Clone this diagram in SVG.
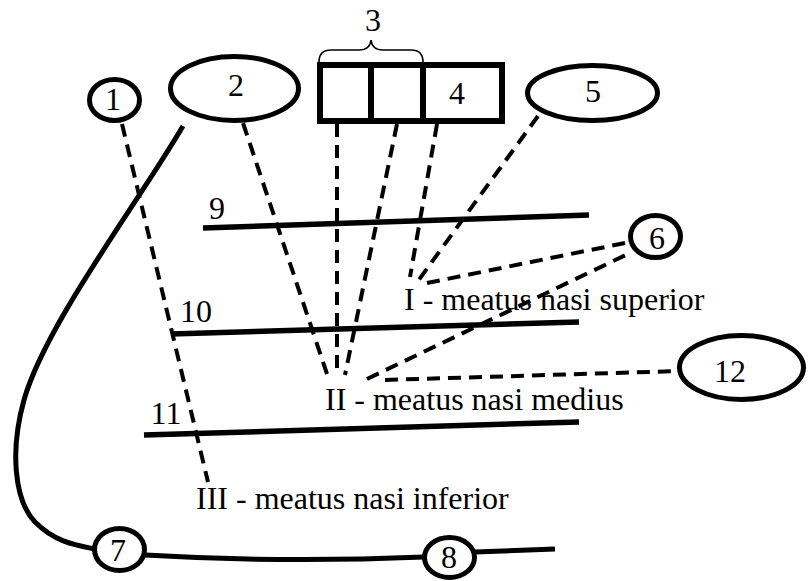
<svg xmlns="http://www.w3.org/2000/svg" width="808" height="581" viewBox="0 0 808 581">
  <style>
    text { font-family: "Liberation Serif", "Times New Roman", serif; font-size: 32px; fill: #000; }
    .num { text-anchor: middle; }
    .node { fill: #fff; stroke: #000; stroke-width: 5; }
    .bar { fill: none; stroke: #000; stroke-width: 5.5; stroke-linecap: butt; }
    .dash { fill: none; stroke: #000; stroke-width: 4; stroke-dasharray: 13 8; }
    .solid { fill: none; stroke: #000; stroke-width: 5; }
  </style>
  <rect width="808" height="581" fill="#fff"/>

  <!-- meatus labels -->
  <g id="labels">
    <text x="404" y="310">I - meatus nasi superior</text>
    <text x="325" y="410">II - meatus nasi medius</text>
    <text x="196" y="509">III - meatus nasi inferior</text>
  </g>

  <!-- conchae (lines 9, 10, 11) -->
  <g id="line9">
    <line class="bar" x1="203" y1="228" x2="589" y2="215"/>
    <text class="num" x="217" y="219">9</text>
  </g>
  <g id="line10">
    <line class="bar" x1="171" y1="334" x2="579" y2="322"/>
    <text class="num" x="196" y="322">10</text>
  </g>
  <g id="line11">
    <line class="bar" x1="144" y1="435" x2="579" y2="422"/>
    <text class="num" x="166" y="424">11</text>
  </g>

  <!-- connectors -->
  <g id="connectors">
    <line class="dash" x1="122" y1="124" x2="208" y2="482"/>
    <line class="dash" x1="243" y1="123" x2="327" y2="374"/>
    <line class="dash" x1="337" y1="124" x2="337" y2="370"/>
    <line class="dash" x1="397" y1="124" x2="345" y2="375"/>
    <line class="dash" x1="437" y1="124" x2="410" y2="277"/>
    <line class="dash" x1="538" y1="116" x2="418" y2="281"/>
    <line class="dash" x1="427" y1="283" x2="630" y2="242"/>
    <line class="dash" x1="367" y1="379" x2="632" y2="252"/>
    <line class="dash" x1="385" y1="380" x2="679" y2="371"/>
    <path class="solid" d="M183,126 C140,200 45,325 24,400 C10,450 14,500 35,522 C55,542 75,545 95,549"/>
    <path class="solid" d="M145,555 Q280,563 424,557"/>
    <line class="solid" x1="475" y1="552" x2="555" y2="549"/>
  </g>

  <!-- nodes -->
  <g id="node1">
    <ellipse class="node" cx="114.5" cy="100" rx="25" ry="20.5"/>
    <text class="num" x="113" y="110">1</text>
  </g>
  <g id="node2">
    <ellipse class="node" cx="234.5" cy="88.5" rx="64" ry="32"/>
    <text class="num" x="236" y="96">2</text>
  </g>
  <g id="node3">
    <path d="M319,62 Q319,50 331,50 L359,50 Q370,50 371,40 Q372,50 383,50 L411,50 Q423,50 423,62" fill="none" stroke="#000" stroke-width="1.6"/>
    <text class="num" x="373" y="31">3</text>
  </g>
  <g id="node4">
    <rect x="320" y="65" width="182" height="56" fill="#fff" stroke="#000" stroke-width="6"/>
    <line x1="371" y1="65" x2="371" y2="121" stroke="#000" stroke-width="6"/>
    <line x1="423" y1="65" x2="423" y2="121" stroke="#000" stroke-width="6"/>
    <text class="num" x="457" y="104">4</text>
  </g>
  <g id="node5">
    <ellipse class="node" cx="592.5" cy="93" rx="65" ry="27.5"/>
    <text class="num" x="593" y="102">5</text>
  </g>
  <g id="node6">
    <ellipse class="node" cx="655.5" cy="236.5" rx="25" ry="21"/>
    <text class="num" x="657" y="249">6</text>
  </g>
  <g id="node7">
    <ellipse class="node" cx="119.5" cy="549.5" rx="25" ry="21"/>
    <text class="num" x="118" y="561">7</text>
  </g>
  <g id="node8">
    <ellipse class="node" cx="449.5" cy="557.5" rx="25" ry="20"/>
    <text class="num" x="449" y="568">8</text>
  </g>
  <g id="node12">
    <ellipse class="node" cx="741.5" cy="367.5" rx="62" ry="32"/>
    <text class="num" x="730" y="382">12</text>
  </g>
</svg>
